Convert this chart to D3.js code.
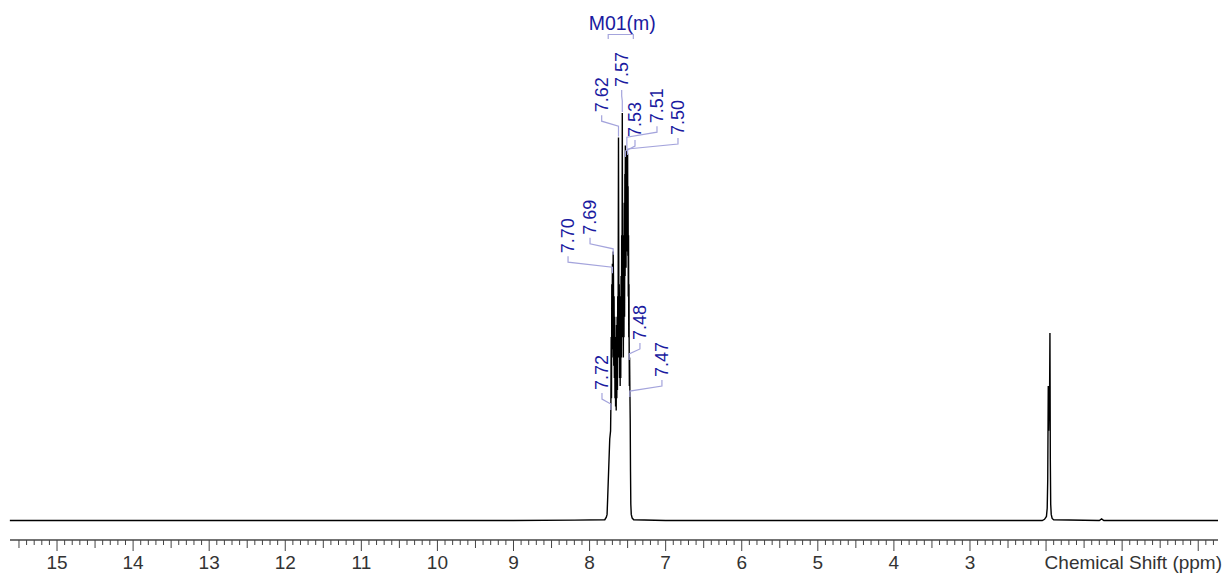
<!DOCTYPE html>
<html><head><meta charset="utf-8">
<script src="https://cdn.jsdelivr.net/npm/d3@7"></script>
<style>
html,body{margin:0;padding:0;background:#fff;}
svg{display:block;font-family:"Liberation Sans",Arial,sans-serif;}
</style></head>
<body>
<svg id="chart" width="1224" height="574"></svg>
<script>
// ---- data (ppm, relative intensity, tallest = 100) ----
const spectrumShift = [15.62, 12.0, 9.0, 8.2, 7.80, 7.78, 7.77, 7.763, 7.75, 7.735, 7.724, 7.720, 7.716, 7.712, 7.708, 7.704, 7.700, 7.697, 7.693, 7.690, 7.686, 7.682, 7.678, 7.674, 7.670, 7.666, 7.662, 7.658, 7.654, 7.650, 7.646, 7.642, 7.638, 7.634, 7.630, 7.626, 7.620, 7.614, 7.610, 7.606, 7.602, 7.598, 7.594, 7.590, 7.586, 7.582, 7.578, 7.574, 7.570, 7.565, 7.560, 7.556, 7.552, 7.548, 7.544, 7.540, 7.536, 7.533, 7.530, 7.527, 7.524, 7.521, 7.518, 7.515, 7.512, 7.510, 7.507, 7.504, 7.500, 7.497, 7.494, 7.491, 7.488, 7.485, 7.482, 7.480, 7.477, 7.474, 7.470, 7.466, 7.462, 7.458, 7.452, 7.44, 7.42, 7.0, 4.0, 2.05, 2.02, 1.995, 1.985, 1.978, 1.971, 1.966, 1.960, 1.955, 1.949, 1.944, 1.939, 1.932, 1.92, 1.90, 1.30, 1.27, 1.24, -0.26];
const spectrumIntensity = [0, 0, 0, 0.1, 0.2, 0.8, 1.5, 5, 12, 20, 22, 28, 45, 30, 58, 40, 63, 42, 45, 66, 60, 38, 55, 35, 50, 30, 45, 28, 42, 27, 48, 30, 50, 32, 55, 40, 94, 40, 58, 35, 55, 33, 52, 35, 60, 40, 70, 45, 100, 45, 62, 40, 70, 45, 78, 50, 85, 60, 92, 65, 88, 62, 90, 66, 88, 91, 68, 89, 90, 65, 82, 55, 70, 45, 58, 44, 33, 40, 32, 25, 12, 4, 1.5, 0.6, 0.2, 0, 0, 0, 0.3, 1, 3, 10, 33, 22, 30, 26, 46, 15, 4, 1.5, 0.5, 0.2, 0, 0.4, 0, 0];

const peakLabels = ["7.72", "7.70", "7.69", "7.62", "7.57", "7.53", "7.51", "7.50", "7.48", "7.47"];
const peakShifts = [7.72, 7.70, 7.69, 7.62, 7.57, 7.53, 7.51, 7.50, 7.48, 7.47];
// label placement (text centre in ppm, text foot level in intensity units)
const labelTextShift = [7.837, 8.283, 7.994, 7.841, 7.578, 7.403, 7.114, 6.838, 7.338, 7.049];
const labelTextLevel = [32.0, 65.6, 70.1, 100.2, 106.4, 94.1, 97.5, 94.6, 44.3, 35.2];

const multipletName = "M01(m)";
const multipletRange = [7.755, 7.425];

const tickLabels = [15, 14, 13, 12, 11, 10, 9, 8, 7, 6, 5, 4, 3];
const axisTitle = "Chemical Shift (ppm)";

// ---- scales ----
const svg = d3.select("#chart");
const x = d3.scaleLinear().domain([15.618, -0.26]).range([10, 1218]);
const y = d3.scaleLinear().domain([0, 100]).range([520.5, 113]);

const labelColor = "#1a1aa0";
const leaderColor = "#a4a4dc";

// ---- spectrum ----
const pts = spectrumShift.map((s, i) => [s, spectrumIntensity[i]]);
svg.append("path")
  .datum(pts)
  .attr("fill", "none")
  .attr("stroke", "#000")
  .attr("stroke-width", 1.4)
  .attr("stroke-linejoin", "miter")
  .attr("d", d3.line().x(d => x(d[0])).y(d => y(d[1])));

// ---- axis ----
const axisY = 540;
const ag = svg.append("g");
ag.append("line").attr("x1", 10).attr("x2", 1218).attr("y1", axisY).attr("y2", axisY)
  .attr("stroke", "#444").attr("stroke-width", 1.5);
const minorTicks = d3.range(-2, 156).map(v => v / 10).filter(v => x(v) >= 10 && x(v) <= 1218);
ag.selectAll("line.t").data(minorTicks).join("line").attr("class", "t")
  .attr("x1", d => x(d)).attr("x2", d => x(d))
  .attr("y1", axisY)
  .attr("y2", d => {
    const k = Math.round(d * 10);
    return axisY + (k % 10 === 0 ? 11 : (k % 5 === 0 ? 8 : 5));
  })
  .attr("stroke", "#444").attr("stroke-width", 1);
ag.selectAll("text.tl").data(tickLabels).join("text").attr("class", "tl")
  .attr("x", d => x(d)).attr("y", 569)
  .attr("text-anchor", "middle")
  .attr("font-size", 19).attr("fill", "#333")
  .text(d => d);
ag.append("text").attr("x", 1222).attr("y", 569).attr("text-anchor", "end")
  .attr("font-size", 19).attr("fill", "#333").text(axisTitle);

// ---- multiplet label ----
const bx1 = x(multipletRange[0]), bx2 = x(multipletRange[1]);
svg.append("path")
  .attr("d", `M${bx1},39V34.5H${bx2}V39`)
  .attr("fill", "none").attr("stroke", leaderColor).attr("stroke-width", 1.2);
svg.append("text").attr("x", (bx1 + bx2) / 2 + 1.5).attr("y", 30)
  .attr("text-anchor", "middle").attr("font-size", 19.5).attr("fill", labelColor)
  .text(multipletName);

// ---- peak labels ----
function levelAt(s) {
  let best = 0, bd = 1e9;
  pts.forEach(p => { const d = Math.abs(p[0] - s); if (d < bd) { bd = d; best = p[1]; } });
  return best;
}
peakLabels.forEach((lab, i) => {
  const tx = x(labelTextShift[i]);
  const b = y(labelTextLevel[i]);
  const px = x(peakShifts[i]);
  const py = y(levelAt(peakShifts[i]));
  const endY = Math.max(b + 20, py - 1);
  svg.append("path")
    .attr("d", `M${tx},${b + 3}V${b + 9}L${px},${b + 14}V${endY}`)
    .attr("fill", "none").attr("stroke", leaderColor).attr("stroke-width", 1.2);
  svg.append("text")
    .attr("transform", `translate(${tx},${b}) rotate(-90)`)
    .attr("dy", "0.35em")
    .attr("font-size", 18).attr("fill", labelColor)
    .text(lab);
});
</script>
</body></html>
